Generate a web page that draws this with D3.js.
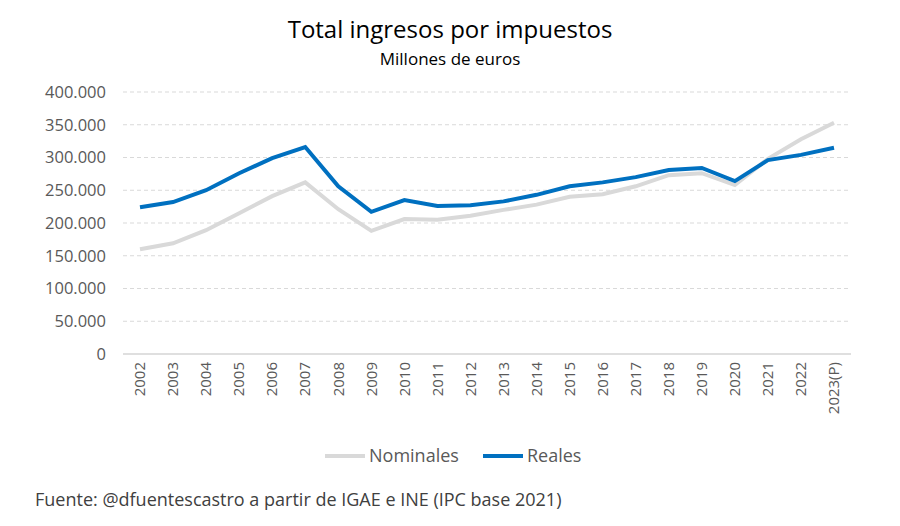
<!DOCTYPE html>
<html><head><meta charset="utf-8">
<script src="https://cdn.jsdelivr.net/npm/d3@7"></script>
<style>body{margin:0;background:#fff;font-family:"Open Sans",Arial,sans-serif}</style>
</head><body><svg id="c" width="900" height="526"></svg>
<script>
const years = ["2002","2003","2004","2005","2006","2007","2008","2009","2010","2011","2012","2013","2014","2015","2016","2017","2018","2019","2020","2021","2022","2023(P)"];
const nominales = [160000,169000,189000,215000,241000,262000,221000,188000,206000,205000,211000,220000,228000,240000,244000,256000,273000,276000,258000,298000,328000,353000];
const reales = [224000,232000,250000,276000,299000,316000,256000,217000,235000,226000,227000,233000,243000,256000,262000,270000,281000,284000,264000,296000,304000,315000];
const yTicks = [0,50000,100000,150000,200000,250000,300000,350000,400000];

const svg = d3.select("#c");
const x = d3.scalePoint().domain(years).range([140, 834]);
const y = d3.scaleLinear().domain([0, 400000]).range([354, 92]);
const fmt = v => v === 0 ? "0" : d3.format(",")(v).replace(/,/g, ".");

svg.append("g").selectAll("line").data(yTicks.slice(1)).join("line")
  .attr("x1", 123).attr("x2", 851).attr("y1", d => y(d)).attr("y2", d => y(d))
  .attr("stroke", "#d9d9d9").attr("stroke-dasharray", "4,3");
svg.append("line").attr("x1", 123).attr("x2", 851).attr("y1", y(0)).attr("y2", y(0)).attr("stroke", "#bfbfbf");

svg.append("g").selectAll("text").data(yTicks).join("text")
  .attr("x", 106).attr("y", d => y(d)).attr("dy", "0.35em").attr("text-anchor", "end")
  .attr("font-size", 16.5).attr("fill", "#595959").text(fmt);

svg.append("g").selectAll("text").data(years).join("text")
  .attr("transform", d => `translate(${x(d)},362) rotate(-90)`).attr("dy", "0.35em")
  .attr("text-anchor", "end").attr("font-size", 15).attr("fill", "#595959").text(d => d);

const line = d3.line().x((d, i) => x(years[i])).y(d => y(d));
svg.append("path").datum(nominales).attr("d", line).attr("fill", "none").attr("stroke", "#d9d9d9").attr("stroke-width", 4);
svg.append("path").datum(reales).attr("d", line).attr("fill", "none").attr("stroke", "#0070c0").attr("stroke-width", 4);

svg.append("text").attr("x", 450).attr("y", 38).attr("text-anchor", "middle").attr("font-size", 24).attr("fill", "#000").text("Total ingresos por impuestos");
svg.append("text").attr("x", 450).attr("y", 65).attr("text-anchor", "middle").attr("font-size", 17).attr("fill", "#000").text("Millones de euros");

const legend = [["Nominales", "#d9d9d9", 325], ["Reales", "#0070c0", 483]];
legend.forEach(([name, col, lx]) => {
  svg.append("line").attr("x1", lx).attr("x2", lx + 40).attr("y1", 456).attr("y2", 456).attr("stroke", col).attr("stroke-width", 4);
  svg.append("text").attr("x", lx + 44).attr("y", 456).attr("dy", "0.35em").attr("font-size", 18).attr("fill", "#595959").text(name);
});

svg.append("text").attr("x", 35).attr("y", 506).attr("font-size", 18).attr("fill", "#404040").text("Fuente: @dfuentescastro a partir de IGAE e INE (IPC base 2021)");
</script></body></html>
